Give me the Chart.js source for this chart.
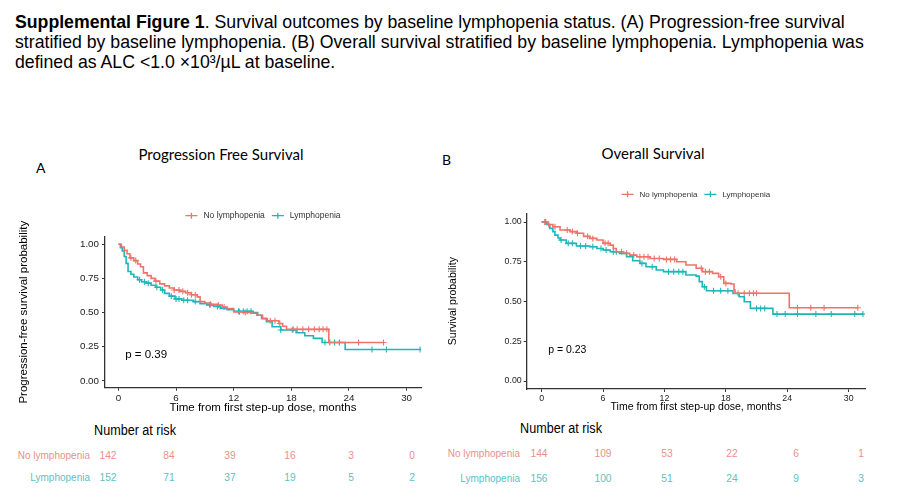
<!DOCTYPE html>
<html>
<head>
<meta charset="utf-8">
<script src="https://cdn.jsdelivr.net/npm/chart.js@4.4.1/dist/chart.umd.min.js"></script>
<style>
  body { margin: 0; background: #fff; }
  #page { position: relative; width: 900px; height: 495px; overflow: hidden; font-family: "Liberation Sans", Arial, sans-serif; }
  .caption { position: absolute; left: 15px; top: 12.4px; font-size: 17.7px; line-height: 20px; color: #000; white-space: nowrap; }
  .panel-tag { position: absolute; font-family: Lato, "Open Sans", sans-serif; font-size: 14px; color: #000; }
  .panel-title { position: absolute; font-family: Lato, "Open Sans", sans-serif; font-size: 15px; color: #000; transform: translate(-50%, -50%); white-space: nowrap; }
  .risk { position: absolute; font-family: "Liberation Sans", Arial, sans-serif; white-space: nowrap; }
  .risk-head { font-size: 14px; color: #000; transform: translate(-50%, -50%) scaleX(0.9); }
  .risk-lab { font-size: 10px; transform: translate(-100%, -50%); }
  .risk-num { font-size: 11px; transform: translate(-50%, -50%) scaleX(0.93); }
  canvas { position: absolute; }
</style>
</head>
<body>
<div id="page">
  <div class="caption"><b>Supplemental Figure 1</b>. Survival outcomes by baseline lymphopenia status. (A) Progression-free survival<br>stratified by baseline lymphopenia. (B) Overall survival stratified by baseline lymphopenia. Lymphopenia was<br>defined as ALC &lt;1.0 ×10³/µL at baseline.</div>

  <div class="panel-tag" style="left:36px; top:159px;">A</div>
  <div class="panel-title" style="left:221px; top:154px;">Progression Free Survival</div>
  <div class="panel-tag" style="left:442px; top:151px;">B</div>
  <div class="panel-title" style="left:653px; top:153px;">Overall Survival</div>

  <div style="position:absolute; left:0; top:190px; width:440px; height:230px;"><canvas id="pfsChart"></canvas></div>
  <div style="position:absolute; left:440px; top:170px; width:460px; height:250px;"><canvas id="osChart"></canvas></div>

  <div id="riskTables"></div>
</div>

<script>
// ---- data ----
var groupNames = ["No lymphopenia", "Lymphopenia"];
var xTicks = [0, 6, 12, 18, 24, 30];
var yTicks = [0, 0.25, 0.5, 0.75, 1];

// progression free survival, no lymphopenia
var pfsNoTime = [0, 0.3, 0.6, 0.9, 1.2, 1.6, 2.0, 2.3, 2.6, 3.0, 3.4, 3.8, 4.3, 4.8, 5.3, 5.8, 6.4, 7.0, 7.6, 8.2, 8.5, 9.0, 9.6, 10.2, 10.8, 11.3, 12.0, 13.0, 13.8, 14.4, 15.0, 15.5, 16.7, 17.1, 17.5, 21.9, 27.6];
var pfsNoSurv = [1, 0.98, 0.955, 0.93, 0.90, 0.88, 0.855, 0.835, 0.79, 0.77, 0.75, 0.73, 0.71, 0.695, 0.68, 0.665, 0.655, 0.645, 0.63, 0.615, 0.58, 0.57, 0.56, 0.555, 0.54, 0.53, 0.505, 0.50, 0.495, 0.48, 0.455, 0.44, 0.42, 0.40, 0.377, 0.281, 0.281];
var pfsNoCens = [1.3, 1.8, 3.9, 5.8, 6.3, 6.7, 7.2, 7.6, 8.0, 9.6, 10.4, 11.0, 12.6, 13.2, 15.8, 16.3, 16.8, 18.2, 18.6, 19.2, 19.8, 20.4, 20.9, 21.3, 21.7, 25.0, 27.6];

// progression free survival, lymphopenia
var pfsLymTime = [0, 0.2, 0.4, 0.6, 0.8, 1.0, 1.3, 1.6, 2.0, 2.4, 2.9, 3.4, 3.9, 4.4, 4.8, 5.3, 5.9, 6.6, 7.8, 8.5, 9.2, 9.9, 10.6, 11.3, 12.0, 14.0, 14.5, 14.9, 15.4, 16.0, 16.9, 18.5, 19.4, 20.3, 21.2, 23.6, 31.4];
var pfsLymSurv = [1, 0.975, 0.95, 0.91, 0.86, 0.80, 0.78, 0.76, 0.74, 0.725, 0.715, 0.70, 0.685, 0.665, 0.64, 0.62, 0.60, 0.59, 0.58, 0.565, 0.555, 0.545, 0.53, 0.52, 0.51, 0.50, 0.48, 0.457, 0.433, 0.396, 0.372, 0.352, 0.33, 0.311, 0.281, 0.23, 0.23];
var pfsLymCens = [2.2, 2.7, 3.1, 4.0, 4.6, 5.5, 6.0, 6.3, 6.8, 7.2, 8.0, 9.5, 10.3, 12.5, 13.0, 13.4, 13.8, 16.9, 18.1, 21.5, 22.0, 22.5, 23.0, 26.4, 27.9, 31.4];

// overall survival, no lymphopenia
var osNoTime = [0, 0.6, 1.1, 1.8, 2.8, 3.4, 4.1, 4.7, 5.4, 6.0, 6.7, 7.0, 7.3, 8.0, 8.6, 9.3, 10.6, 11.9, 13.2, 14.1, 15.1, 15.7, 16.7, 17.3, 17.8, 18.5, 18.8, 18.9, 24.2, 30.9];
var osNoSurv = [1, 0.985, 0.97, 0.95, 0.94, 0.93, 0.91, 0.897, 0.887, 0.866, 0.855, 0.834, 0.813, 0.803, 0.792, 0.782, 0.771, 0.765, 0.75, 0.73, 0.709, 0.688, 0.677, 0.656, 0.614, 0.61, 0.572, 0.552, 0.461, 0.461];
var osNoCens = [0.3, 0.7, 1.3, 2.5, 3.0, 3.5, 4.5, 5.0, 6.2, 6.5, 7.8, 8.3, 9.0, 9.6, 10.0, 10.4, 11.0, 11.5, 12.2, 12.6, 13.0, 15.6, 16.0, 16.4, 17.5, 18.0, 19.2, 19.8, 20.3, 20.7, 21.0, 25.0, 26.3, 27.6, 30.9];

// overall survival, lymphopenia
var osLymTime = [0, 0.5, 0.8, 1.1, 1.3, 1.6, 1.8, 2.4, 3.4, 4.7, 5.4, 6.0, 6.7, 7.6, 8.3, 8.9, 9.6, 10.2, 11.2, 11.9, 14.1, 15.1, 15.4, 15.7, 16.1, 18.7, 19.3, 19.8, 20.4, 22.6, 31.4];
var osLymSurv = [1, 0.985, 0.96, 0.94, 0.918, 0.90, 0.887, 0.866, 0.849, 0.845, 0.834, 0.824, 0.813, 0.803, 0.782, 0.757, 0.74, 0.719, 0.698, 0.688, 0.667, 0.66, 0.625, 0.593, 0.568, 0.551, 0.53, 0.499, 0.457, 0.421, 0.421];
var osLymCens = [0.4, 1.9, 2.6, 3.0, 3.8, 4.3, 5.0, 5.8, 6.3, 7.0, 7.3, 9.8, 10.8, 12.4, 12.9, 13.4, 13.8, 15.9, 16.8, 17.5, 18.2, 21.0, 21.4, 21.8, 23.0, 23.8, 25.0, 26.8, 28.3, 30.6, 31.4];

// number at risk
var riskTimes = [0, 6, 12, 18, 24, 30];
var pfsRiskNo = [142, 84, 39, 16, 3, 0];
var pfsRiskLym = [152, 71, 37, 19, 5, 2];
var osRiskNo = [144, 109, 53, 22, 6, 1];
var osRiskLym = [156, 100, 51, 24, 9, 3];

// ---- styling ----
var redLine = "#EE736A";
var tealLine = "#1FB6BA";
var redText = "#EC8F89";
var tealText = "#5FC0C3";

function stepPoints(times, surv) {
    var pts = [];
    for (var i = 0; i < times.length; i++) pts.push({ x: times[i], y: surv[i] });
    return pts;
}

function survAt(times, surv, t) {
    var s = surv[0];
    for (var i = 0; i < times.length; i++) {
        if (times[i] <= t) s = surv[i];
    }
    return s;
}

function censorPoints(cens, times, surv) {
    return cens.map(function(t) { return { x: t, y: survAt(times, surv, t) }; });
}

// legend + p value drawn on the canvas
var kmDecor = {
    id: "kmDecor",
    afterDraw: function(chart, args, opts) {
        var ctx = chart.ctx, area = chart.chartArea;
        var xs = chart.scales.x, ys = chart.scales.y;
        ctx.save();
        ctx.fillStyle = "#000";
        ctx.textBaseline = "middle";
        ctx.textAlign = "left";
        ctx.font = opts.pFont;
        ctx.fillText(opts.pText, xs.getPixelForValue(opts.pAt[0]), ys.getPixelForValue(opts.pAt[1]));

        ctx.font = opts.legendFont;
        var items = chart.data.datasets.filter(function(d) { return !d.censor; });
        var sym = 12, gapText = 6, gapItem = 7;
        var total = 0;
        items.forEach(function(d, i) {
            total += sym + gapText + ctx.measureText(d.label).width + (i < items.length - 1 ? gapItem : 0);
        });
        var x = (area.left + area.right) / 2 - total / 2;
        var y = area.top - opts.legendOffset;
        items.forEach(function(d) {
            ctx.strokeStyle = d.borderColor;
            ctx.lineWidth = 1.3;
            ctx.beginPath();
            ctx.moveTo(x, y); ctx.lineTo(x + sym, y);
            ctx.moveTo(x + sym / 2, y - 3); ctx.lineTo(x + sym / 2, y + 3);
            ctx.stroke();
            x += sym + gapText;
            ctx.fillStyle = "#333";
            ctx.fillText(d.label, x, y);
            x += ctx.measureText(d.label).width + gapItem;
        });
        ctx.restore();
    }
};

function makeKm(canvasId, cfg) {
    var datasets = [
        { label: groupNames[0], data: stepPoints(cfg.noTime, cfg.noSurv), borderColor: redLine, stepped: true, pointRadius: 0, borderWidth: 1.6, fill: false },
        { label: groupNames[1], data: stepPoints(cfg.lymTime, cfg.lymSurv), borderColor: tealLine, stepped: true, pointRadius: 0, borderWidth: 1.6, fill: false },
        { label: "c1", censor: true, data: censorPoints(cfg.noCens, cfg.noTime, cfg.noSurv), showLine: false, pointStyle: "cross", pointRadius: 3, borderColor: redLine, borderWidth: 1.1 },
        { label: "c2", censor: true, data: censorPoints(cfg.lymCens, cfg.lymTime, cfg.lymSurv), showLine: false, pointStyle: "cross", pointRadius: 3, borderColor: tealLine, borderWidth: 1.1 }
    ];
    return new Chart(document.getElementById(canvasId), {
        type: "line",
        data: { datasets: datasets },
        plugins: [kmDecor],
        options: {
            responsive: true,
            maintainAspectRatio: false,
            animation: false,
            layout: { padding: cfg.padding },
            plugins: {
                legend: { display: false },
                tooltip: { enabled: false },
                kmDecor: { pText: cfg.pText, pAt: cfg.pAt, pFont: cfg.pFont, legendFont: cfg.legendFont, legendOffset: cfg.legendOffset }
            },
            scales: {
                x: {
                    type: "linear",
                    min: cfg.xMin, max: cfg.xMax,
                    afterBuildTicks: function(s) { s.ticks = xTicks.map(function(v) { return { value: v }; }); },
                    afterFit: function(s) { s.height = cfg.xHeight; },
                    grid: { display: true, drawOnChartArea: false, drawTicks: true, tickLength: 3, color: "#333" },
                    border: { display: true, color: "#333", width: 1.3 },
                    ticks: { color: "#222", font: { family: "Liberation Sans", size: cfg.tickSize }, padding: cfg.xTickPad, maxRotation: 0 },
                    title: { display: true, text: "Time from first step-up dose, months", color: "#000", font: { family: "Liberation Sans", size: cfg.titleSize } }
                },
                y: {
                    min: -0.05, max: 1.055,
                    afterBuildTicks: function(s) { s.ticks = yTicks.map(function(v) { return { value: v }; }); },
                    afterFit: function(s) { s.width = cfg.yWidth; },
                    grid: { display: true, drawOnChartArea: false, drawTicks: true, tickLength: 3, color: "#333" },
                    border: { display: true, color: "#333", width: 1.3 },
                    ticks: { color: "#222", font: { family: "Liberation Sans", size: cfg.tickSize }, padding: cfg.yTickPad, callback: function(v) { return v.toFixed(2); } },
                    title: { display: true, text: cfg.yTitle, color: "#000", font: { family: "Liberation Sans", size: cfg.titleSize } }
                }
            }
        }
    });
}

makeKm("pfsChart", {
    noTime: pfsNoTime, noSurv: pfsNoSurv, noCens: pfsNoCens,
    lymTime: pfsLymTime, lymSurv: pfsLymSurv, lymCens: pfsLymCens,
    xMin: -1.4, xMax: 31.5,
    padding: { left: 12.7, top: 46.7, right: 19, bottom: 1 },
    xHeight: 31.3, yWidth: 92.3,
    tickSize: 9.8, titleSize: 11.5, xTickPad: 2, yTickPad: 3,
    yTitle: "Progression-free survival probability",
    pText: "p = 0.39", pAt: [0.7, 0.19], pFont: "11.5px 'Liberation Sans'",
    legendFont: "8.5px 'Liberation Sans'", legendOffset: 21
});

makeKm("osChart", {
    noTime: osNoTime, noSurv: osNoSurv, noCens: osNoCens,
    lymTime: osLymTime, lymSurv: osLymSurv, lymCens: osLymCens,
    xMin: -1.46, xMax: 31.6,
    padding: { left: 2.7, top: 43.3, right: 35, bottom: 2.3 },
    xHeight: 28.7, yWidth: 84,
    tickSize: 8.8, titleSize: 10.5, xTickPad: 1, yTickPad: 2,
    yTitle: "Survival probability",
    pText: "p = 0.23", pAt: [0.64, 0.195], pFont: "10.5px 'Liberation Sans'",
    legendFont: "8px 'Liberation Sans'", legendOffset: 19
});

// number at risk tables
function riskTable(head, labRight, colStart, colStep, rows) {
    var box = document.getElementById("riskTables");
    var h = document.createElement("div");
    h.className = "risk risk-head";
    h.style.left = head.x + "px"; h.style.top = head.y + "px";
    h.textContent = "Number at risk";
    box.appendChild(h);
    rows.forEach(function(r) {
        var lab = document.createElement("div");
        lab.className = "risk risk-lab";
        lab.style.left = labRight + "px"; lab.style.top = r.y + "px"; lab.style.color = r.color;
        lab.textContent = r.name;
        box.appendChild(lab);
        r.values.forEach(function(v, i) {
            var n = document.createElement("div");
            n.className = "risk risk-num";
            n.style.left = (colStart + colStep * riskTimes[i] / 6) + "px";
            n.style.top = r.y + "px"; n.style.color = r.color;
            n.textContent = v;
            box.appendChild(n);
        });
    });
}

riskTable({ x: 135, y: 430 }, 90, 108, 60.8, [
    { name: groupNames[0], values: pfsRiskNo, y: 455, color: redText },
    { name: groupNames[1], values: pfsRiskLym, y: 477, color: tealText }
]);
riskTable({ x: 561, y: 428 }, 520, 538.6, 64.4, [
    { name: groupNames[0], values: osRiskNo, y: 453, color: redText },
    { name: groupNames[1], values: osRiskLym, y: 478, color: tealText }
]);
</script>
</body>
</html>
